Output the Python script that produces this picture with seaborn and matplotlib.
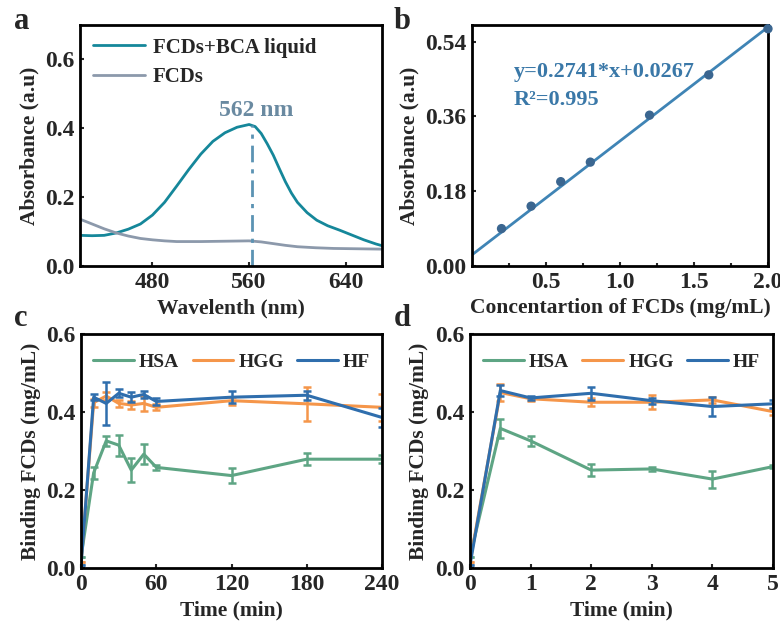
import numpy as np
import pandas as pd
import matplotlib
matplotlib.use("Agg")
import matplotlib.pyplot as plt
import seaborn as sns

# ---- panel a: absorbance spectra ----
wl_bca = [420, 430, 440, 450, 460, 470, 480, 490, 500, 510, 520, 530, 540,
          550, 560, 565, 570, 575, 580, 585, 590, 595, 600, 608, 616, 625,
          635, 645, 655, 665, 670]
abs_bca = [0.089, 0.088, 0.089, 0.096, 0.107, 0.122, 0.148, 0.185, 0.232,
           0.280, 0.325, 0.362, 0.387, 0.403, 0.411, 0.405, 0.385, 0.355,
           0.322, 0.283, 0.245, 0.212, 0.185, 0.155, 0.133, 0.117, 0.104,
           0.090, 0.076, 0.064, 0.059]
wl_fcd = [420, 430, 440, 450, 460, 470, 480, 490, 500, 520, 540, 560, 570,
          580, 590, 600, 615, 630, 650, 670]
abs_fcd = [0.136, 0.122, 0.108, 0.096, 0.087, 0.080, 0.076, 0.073, 0.071,
           0.071, 0.072, 0.073, 0.070, 0.065, 0.060, 0.056, 0.053, 0.051,
           0.050, 0.049]
peak_nm = 562

# ---- panel b: calibration ----
conc = [0.2, 0.4, 0.6, 0.8, 1.2, 1.6, 2.0]
absb = [0.090, 0.144, 0.203, 0.250, 0.363, 0.460, 0.571]
slope, intercept = 0.2741, 0.0267

# ---- panel c: binding vs time (min) ----
t_c = [0, 10, 20, 30, 40, 50, 60, 120, 180, 240]
hsa_c = [0.029, 0.244, 0.326, 0.315, 0.251, 0.292, 0.258, 0.237, 0.279, 0.279]
hsa_c_err = [0.0, 0.015, 0.012, 0.027, 0.031, 0.025, 0.007, 0.02, 0.015, 0.01]
hgg_c = [0.016, 0.424, 0.441, 0.422, 0.418, 0.422, 0.412, 0.429, 0.421, 0.412]
hgg_c_err = [0.0, 0.01, 0.01, 0.01, 0.01, 0.02, 0.008, 0.01, 0.044, 0.035]
hf_c = [0.008, 0.438, 0.422, 0.448, 0.438, 0.445, 0.427, 0.438, 0.443, 0.386]
hf_c_err = [0.0, 0.008, 0.056, 0.01, 0.013, 0.01, 0.01, 0.015, 0.012, 0.025]

# ---- panel d: binding vs time (min), short ----
t_d = [0, 0.5, 1, 2, 3, 4, 5]
hsa_d = [0.029, 0.358, 0.326, 0.251, 0.254, 0.228, 0.260]
hsa_d_err = [0.0, 0.025, 0.012, 0.015, 0.004, 0.022, 0.004]
hgg_d = [0.016, 0.450, 0.434, 0.425, 0.425, 0.431, 0.401]
hgg_d_err = [0.0, 0.021, 0.005, 0.01, 0.018, 0.008, 0.008]
hf_d = [0.008, 0.455, 0.436, 0.448, 0.429, 0.414, 0.421]
hf_d_err = [0.0, 0.015, 0.006, 0.017, 0.008, 0.024, 0.01]

sns.set_style("ticks")
plt.rcParams['font.family'] = ['Liberation Serif', 'DejaVu Serif']
plt.rcParams['font.weight'] = 'bold'
plt.rcParams['axes.labelweight'] = 'bold'
plt.rcParams['font.size'] = 15
plt.rcParams['axes.linewidth'] = 2
plt.rcParams['xtick.direction'] = 'in'
plt.rcParams['ytick.direction'] = 'in'

fig = plt.figure(figsize=(7.8, 6.25), dpi=100)
axA = fig.add_axes([0.1026, 0.5744, 0.3871, 0.3856])
axB = fig.add_axes([0.605, 0.5744, 0.3796, 0.3856])
axC = fig.add_axes([0.104, 0.0912, 0.3857, 0.3744])
axD = fig.add_axes([0.6026, 0.0912, 0.3884, 0.3744])

LABEL = 15.5

def style(ax):
    for s in ax.spines.values():
        s.set_linewidth(2)
        s.set_color('black')
    ax.tick_params(width=1.5, length=3, labelsize=17, pad=4)
    for lab in ax.get_xticklabels() + ax.get_yticklabels():
        lab.set_fontweight('bold')

# panel a
sns.lineplot(x=wl_bca, y=abs_bca, ax=axA, color='#15879a', lw=2,
             label='FCDs+BCA liquid')
sns.lineplot(x=wl_fcd, y=abs_fcd, ax=axA, color='#8c99ab', lw=2,
             label='FCDs')
axA.plot([peak_nm, peak_nm], [0, 0.41], color='#5b93b3', lw=2,
         linestyle=(0, (6, 2.5, 1.5, 2.5)))
axA.text(566, 0.453, '562 nm', color='#6a8aa1', fontsize=17,
         fontweight='bold', ha='center', va='center')
axA.set_xlim(420, 670)
axA.set_ylim(0, 0.7)
axA.set_xticks([480, 560, 640])
axA.set_yticks([0.0, 0.2, 0.4, 0.6])
axA.set_xlabel('Wavelenth (nm)', fontsize=LABEL)
axA.set_ylabel('Absorbance (a.u)', fontsize=LABEL)
axA.legend(loc='upper left', frameon=False, handlelength=2.5,
           handletextpad=0.4, borderaxespad=0.3, labelspacing=0.45,
           borderpad=0.3, prop={'weight': 'bold', 'size': 15})
style(axA)

# panel b
axB.axline((0, intercept), slope=slope, color='#3f84b5', lw=2)
sns.scatterplot(x=conc, y=absb, ax=axB, color='#3b6690', s=45,
                edgecolor='none', zorder=3, clip_on=False)
axB.text(0.28, 0.467, 'y=0.2741*x+0.0267', color='#3a78a8', fontsize=16,
         fontweight='bold', va='center')
axB.text(0.28, 0.40, 'R²=0.995', color='#3a78a8', fontsize=16,
         fontweight='bold', va='center')
axB.set_xlim(0, 2.0)
axB.set_ylim(0, 0.58)
axB.set_xticks([0.5, 1.0, 1.5, 2.0])
axB.set_xticks([0.25, 0.75, 1.25, 1.75], minor=True)
axB.set_yticks([0.0, 0.18, 0.36, 0.54])
axB.yaxis.set_major_formatter(matplotlib.ticker.FormatStrFormatter('%.2f'))
axB.tick_params(which='minor', direction='in', length=2, width=1.5)
axB.set_xlabel('Concentartion of FCDs (mg/mL)', fontsize=LABEL)
axB.set_ylabel('Absorbance (a.u)', fontsize=LABEL)
style(axB)

def binding(ax, t, series, xticks, xmax):
    for name, vals, errs, col in series:
        sns.lineplot(x=t, y=vals, ax=ax, color=col, lw=2.2, label=name)
        ax.errorbar(t, vals, yerr=errs, fmt='none', ecolor=col, elinewidth=1.8,
                    capsize=3, capthick=1.8)
    ax.set_xlim(0, xmax)
    ax.set_ylim(0, 0.6)
    ax.set_xticks(xticks)
    ax.set_yticks([0.0, 0.2, 0.4, 0.6])
    ax.set_xlabel('Time (min)', fontsize=LABEL)
    ax.set_ylabel('Binding FCDs (mg/mL)', fontsize=LABEL)
    ax.legend(loc='upper center', ncol=3, frameon=False, handlelength=2.1,
              columnspacing=0.7, handletextpad=0.25, borderaxespad=0.6,
              prop={'weight': 'bold', 'size': 14})
    style(ax)

green, orange, blue = '#5ea584', '#f5964a', '#2f6ead'
binding(axC, t_c, [('HSA', hsa_c, hsa_c_err, green),
                   ('HGG', hgg_c, hgg_c_err, orange),
                   ('HF', hf_c, hf_c_err, blue)], [0, 60, 120, 180, 240], 240)
binding(axD, t_d, [('HSA', hsa_d, hsa_d_err, green),
                   ('HGG', hgg_d, hgg_d_err, orange),
                   ('HF', hf_d, hf_d_err, blue)], [0, 1, 2, 3, 4, 5], 5)

for lab, x, y in [('a', 0.018, 0.965), ('b', 0.505, 0.965),
                  ('c', 0.018, 0.49), ('d', 0.505, 0.49)]:
    fig.text(x, y, lab, fontsize=22, fontweight='bold', va='center')

fig.savefig('out.png', dpi=100)
